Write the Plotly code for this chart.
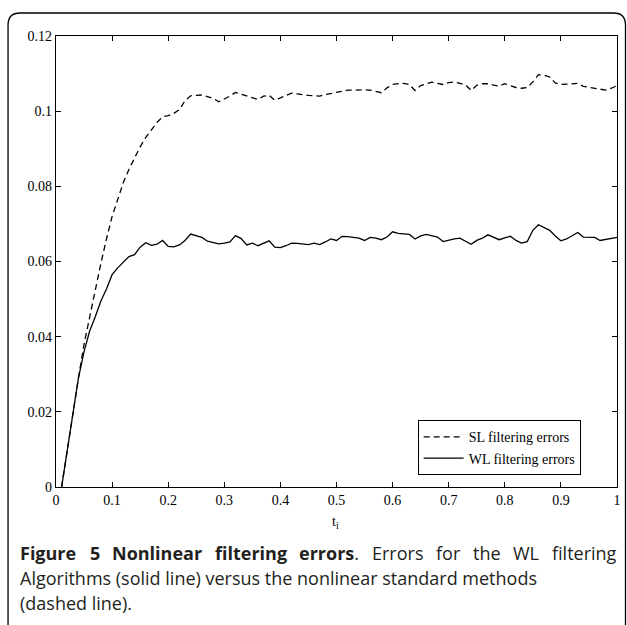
import plotly.graph_objects as go

# ---------------- data ----------------
t_values = [round(0.01 * i, 2) for i in range(1, 101)]

wl_errors = [
    0.0, 0.010, 0.020, 0.029, 0.036, 0.0415, 0.0453, 0.0495, 0.0527, 0.0565,
    0.0583, 0.0598, 0.0613, 0.0618, 0.0638, 0.0650, 0.0643, 0.0646, 0.0656, 0.0640,
    0.0639, 0.0644, 0.0656, 0.0673, 0.0668, 0.0664, 0.0654, 0.0651, 0.0647, 0.0649,
    0.0652, 0.0669, 0.0661, 0.0644, 0.0649, 0.0642, 0.0649, 0.0655, 0.0638, 0.0637,
    0.0642, 0.0649, 0.0648, 0.0647, 0.0645, 0.0649, 0.0645, 0.0652, 0.0660, 0.0656,
    0.0667, 0.0666, 0.0664, 0.0662, 0.0656, 0.0664, 0.0662, 0.0658, 0.0665, 0.0679,
    0.0675, 0.0673, 0.0672, 0.0660, 0.0668, 0.0672, 0.0668, 0.0665, 0.0653, 0.0657,
    0.0660, 0.0662, 0.0655, 0.0646, 0.0656, 0.0662, 0.0671, 0.0664, 0.0658, 0.0663,
    0.0667, 0.0656, 0.0649, 0.0653, 0.0683, 0.0698, 0.0690, 0.0683, 0.0668, 0.0655,
    0.0660, 0.0668, 0.0677, 0.0665, 0.0664, 0.0664, 0.0656, 0.0658, 0.0660, 0.0664,
]

sl_errors = [
    0.0, 0.010, 0.020, 0.029, 0.038, 0.0455, 0.0524, 0.0595, 0.0660, 0.0720,
    0.0765, 0.0810, 0.0845, 0.0875, 0.0905, 0.0930, 0.0950, 0.0970, 0.0985, 0.0988,
    0.0994, 0.1004, 0.1028, 0.1041, 0.1042, 0.1043, 0.1039, 0.1034, 0.1025, 0.1032,
    0.1040, 0.1050, 0.1045, 0.1039, 0.1035, 0.1031, 0.1040, 0.1042, 0.1029, 0.1035,
    0.1041, 0.1048, 0.1046, 0.1043, 0.1042, 0.1041, 0.1040, 0.1044, 0.1047, 0.1051,
    0.1054, 0.1056, 0.1056, 0.1057, 0.1057, 0.1056, 0.1053, 0.1049, 0.1062, 0.1071,
    0.1073, 0.1074, 0.1071, 0.1055, 0.1068, 0.1073, 0.1077, 0.1074, 0.1071, 0.1076,
    0.1078, 0.1074, 0.1070, 0.1055, 0.1069, 0.1073, 0.1073, 0.1069, 0.1067, 0.1073,
    0.1068, 0.1063, 0.1061, 0.1063, 0.1078, 0.1097, 0.1096, 0.1091, 0.1075, 0.1071,
    0.1072, 0.1073, 0.1074, 0.1066, 0.1063, 0.1062, 0.1058, 0.1056, 0.1061, 0.1068,
]

x_tick_vals = [0, 0.1, 0.2, 0.3, 0.4, 0.5, 0.6, 0.7, 0.8, 0.9, 1.0]
x_tick_text = ["0", "0.1", "0.2", "0.3", "0.4", "0.5", "0.6", "0.7", "0.8", "0.9", "1"]
y_tick_vals = [0, 0.02, 0.04, 0.06, 0.08, 0.10, 0.12]
y_tick_text = ["0", "0.02", "0.04", "0.06", "0.08", "0.1", "0.12"]

series_names = ["SL filtering errors", "WL filtering errors"]
x_title = "t<sub>i</sub>"
caption_line1_words = ["<b>Figure</b>", "<b>5</b>", "<b>Nonlinear</b>", "<b>filtering</b>",
                       "<b>errors</b>.", "Errors", "for", "the", "WL", "filtering"]
caption_line2 = "Algorithms (solid line) versus the nonlinear standard methods"
caption_line3 = "(dashed line)."

# ---------------- layout geometry (pixels) ----------------
W, H = 627, 625
ML, MR, MT, MB = 56, 9.5, 36, 138.3
PW = W - ML - MR
PH = H - MT - MB


def px(x):
    return (x - ML) / PW


def py(y):
    return (H - MB - y) / PH


SERIF = "Liberation Serif, Times New Roman, serif"
SANS = "Open Sans, Noto Sans, sans-serif"
CAP_SIZE = 18
CAP_COLOR = "#231f20"

fig = go.Figure()
fig.add_trace(go.Scatter(
    x=t_values, y=sl_errors, mode="lines", name=series_names[0],
    line=dict(color="black", width=1.3, dash="6px,4px"),
))
fig.add_trace(go.Scatter(
    x=t_values, y=wl_errors, mode="lines", name=series_names[1],
    line=dict(color="black", width=1.3),
))

axis_common = dict(
    showline=True, linecolor="black", linewidth=1.2, mirror="ticks",
    ticks="inside", ticklen=5, tickwidth=1, tickcolor="black",
    showgrid=False, zeroline=False, automargin=False,
    tickfont=dict(family=SERIF, size=14, color="black"),
)

fig.update_xaxes(range=[0, 1.00001], tickvals=x_tick_vals, ticktext=x_tick_text, **axis_common)
fig.update_yaxes(range=[0, 0.12], tickvals=y_tick_vals, ticktext=y_tick_text, **axis_common)

# frame with rounded top corners
x0, x1, yt, yb, r = 8, 626, 13, 626, 12
frame_path = (
    f"M {px(x0)},{py(yb)} L {px(x0)},{py(yt + r)} "
    f"Q {px(x0)},{py(yt)} {px(x0 + r)},{py(yt)} "
    f"L {px(x1 - r)},{py(yt)} Q {px(x1)},{py(yt)} {px(x1)},{py(yt + r)} "
    f"L {px(x1)},{py(yb)}"
)
fig.add_shape(type="path", path=frame_path, xref="paper", yref="paper",
              line=dict(color="black", width=1.3))

annotations = [
    dict(text=x_title, x=px(336), y=py(522), xref="paper", yref="paper",
         showarrow=False, xanchor="center", yanchor="middle",
         font=dict(family=SERIF, size=14, color="black")),
]

# justified first caption line: one annotation per word, placed at its
# natural offset plus an even extra gap
cap_x = 18
word_offsets = [0, 61.7, 76.7, 171.0, 247.5, 313.2, 369.4, 398.3, 430.5, 461.2]
extra_gap = 7.9
for k, (word, off) in enumerate(zip(caption_line1_words, word_offsets)):
    annotations.append(dict(
        text=word, x=px(cap_x + off + k * extra_gap), y=py(553), xref="paper", yref="paper",
        showarrow=False, xanchor="left", yanchor="middle", align="left",
        font=dict(family=SANS, size=CAP_SIZE, color=CAP_COLOR),
    ))
for line, yy in [(caption_line2, 578), (caption_line3, 603)]:
    annotations.append(dict(
        text=line, x=px(cap_x), y=py(yy), xref="paper", yref="paper",
        showarrow=False, xanchor="left", yanchor="middle", align="left",
        font=dict(family=SANS, size=CAP_SIZE, color=CAP_COLOR),
    ))

fig.update_layout(
    template="none",
    width=W, height=H,
    margin=dict(l=ML, r=MR, t=MT, b=MB, autoexpand=False),
    paper_bgcolor="white", plot_bgcolor="white",
    showlegend=True,
    legend=dict(
        x=px(418), y=py(420), xanchor="left", yanchor="top",
        bordercolor="black", borderwidth=1, bgcolor="white",
        font=dict(family=SERIF, size=14, color="black"),
        tracegroupgap=0, itemwidth=40,
    ),
    annotations=annotations,
)

fig.write_html(
    "out.html",
    config={"displayModeBar": False},
    post_script="document.body.style.margin='0';document.body.style.overflow='hidden';",
)
